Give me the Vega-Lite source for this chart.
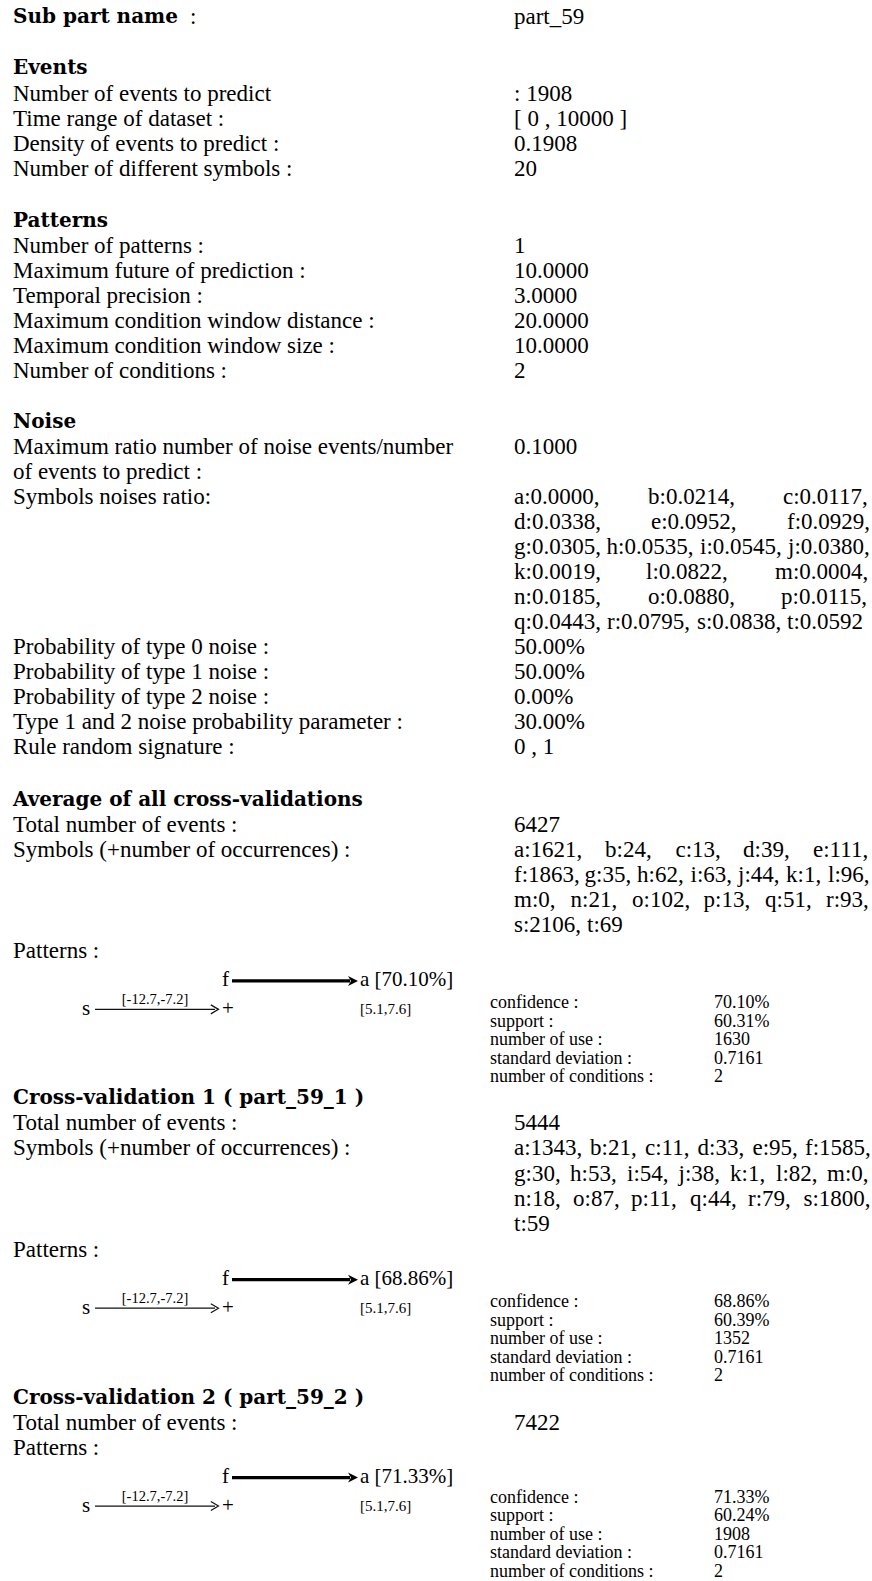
{
"$schema": "https://vega.github.io/schema/vega-lite/v6.json",
"width": 872, "height": 1581,
"autosize": {"type": "fit", "contains": "padding"},
"padding": 0,
"background": "white",
"config": {"view": {"stroke": null}, "text": {"font": "Liberation Serif", "color": "#000"}},
"datasets": {
"txt": [
{"k":"head","x":13,"y":17.5,"t":"Sub part name"},
{"k":"body","x":190,"y":17.5,"t":":"},
{"k":"body","x":514,"y":17.5,"t":"part_59"},
{"k":"head","x":13,"y":68,"t":"Events"},
{"k":"body","x":13,"y":94,"t":"Number of events to predict"},
{"k":"body","x":514,"y":94,"t":": 1908"},
{"k":"body","x":13,"y":119,"t":"Time range of dataset :"},
{"k":"body","x":514,"y":119,"t":"[ 0 , 10000 ]"},
{"k":"body","x":13,"y":144,"t":"Density of events to predict :"},
{"k":"body","x":514,"y":144,"t":"0.1908"},
{"k":"body","x":13,"y":169,"t":"Number of different symbols :"},
{"k":"body","x":514,"y":169,"t":"20"},
{"k":"head","x":13,"y":221,"t":"Patterns"},
{"k":"body","x":13,"y":246,"t":"Number of patterns :"},
{"k":"body","x":514,"y":246,"t":"1"},
{"k":"body","x":13,"y":271,"t":"Maximum future of prediction :"},
{"k":"body","x":514,"y":271,"t":"10.0000"},
{"k":"body","x":13,"y":296,"t":"Temporal precision :"},
{"k":"body","x":514,"y":296,"t":"3.0000"},
{"k":"body","x":13,"y":321,"t":"Maximum condition window distance :"},
{"k":"body","x":514,"y":321,"t":"20.0000"},
{"k":"body","x":13,"y":346,"t":"Maximum condition window size :"},
{"k":"body","x":514,"y":346,"t":"10.0000"},
{"k":"body","x":13,"y":371,"t":"Number of conditions :"},
{"k":"body","x":514,"y":371,"t":"2"},
{"k":"head","x":13,"y":422,"t":"Noise"},
{"k":"body","x":13,"y":447,"t":"Maximum ratio number of noise events/number"},
{"k":"body","x":514,"y":447,"t":"0.1000"},
{"k":"body","x":13,"y":472,"t":"of events to predict :"},
{"k":"body","x":13,"y":497,"t":"Symbols noises ratio:"},
{"k":"body","x":514,"y":497,"t":"a:0.0000,"},
{"k":"body","x":648,"y":497,"t":"b:0.0214,"},
{"k":"body","x":783,"y":497,"t":"c:0.0117,"},
{"k":"body","x":514,"y":522,"t":"d:0.0338,"},
{"k":"body","x":651,"y":522,"t":"e:0.0952,"},
{"k":"body","x":787,"y":522,"t":"f:0.0929,"},
{"k":"body","x":514,"y":547,"t":"g:0.0305,"},
{"k":"body","x":606.5,"y":547,"t":"h:0.0535,"},
{"k":"body","x":700,"y":547,"t":"i:0.0545,"},
{"k":"body","x":788,"y":547,"t":"j:0.0380,"},
{"k":"body","x":514,"y":572,"t":"k:0.0019,"},
{"k":"body","x":646,"y":572,"t":"l:0.0822,"},
{"k":"body","x":775,"y":572,"t":"m:0.0004,"},
{"k":"body","x":514,"y":597,"t":"n:0.0185,"},
{"k":"body","x":648,"y":597,"t":"o:0.0880,"},
{"k":"body","x":781,"y":597,"t":"p:0.0115,"},
{"k":"body","x":514,"y":622,"t":"q:0.0443,"},
{"k":"body","x":607,"y":622,"t":"r:0.0795,"},
{"k":"body","x":697,"y":622,"t":"s:0.0838,"},
{"k":"body","x":787,"y":622,"t":"t:0.0592"},
{"k":"body","x":13,"y":647,"t":"Probability of type 0 noise :"},
{"k":"body","x":514,"y":647,"t":"50.00%"},
{"k":"body","x":13,"y":672,"t":"Probability of type 1 noise :"},
{"k":"body","x":514,"y":672,"t":"50.00%"},
{"k":"body","x":13,"y":697,"t":"Probability of type 2 noise :"},
{"k":"body","x":514,"y":697,"t":"0.00%"},
{"k":"body","x":13,"y":722,"t":"Type 1 and 2 noise probability parameter :"},
{"k":"body","x":514,"y":722,"t":"30.00%"},
{"k":"body","x":13,"y":747,"t":"Rule random signature :"},
{"k":"body","x":514,"y":747,"t":"0 , 1"},
{"k":"head","x":13,"y":800.5,"t":"Average of all cross-validations"},
{"k":"body","x":13,"y":826,"t":"Total number of events :"},
{"k":"body","x":514,"y":826,"t":"6427"},
{"k":"body","x":13,"y":851,"t":"Symbols (+number of occurrences) :"},
{"k":"body","x":514,"y":851,"t":"a:1621,"},
{"k":"body","x":605,"y":851,"t":"b:24,"},
{"k":"body","x":675.5,"y":851,"t":"c:13,"},
{"k":"body","x":743,"y":851,"t":"d:39,"},
{"k":"body","x":813,"y":851,"t":"e:111,"},
{"k":"body","x":514,"y":876,"t":"f:1863,"},
{"k":"body","x":584.5,"y":876,"t":"g:35,"},
{"k":"body","x":637,"y":876,"t":"h:62,"},
{"k":"body","x":690.5,"y":876,"t":"i:63,"},
{"k":"body","x":738,"y":876,"t":"j:44,"},
{"k":"body","x":786,"y":876,"t":"k:1,"},
{"k":"body","x":828,"y":876,"t":"l:96,"},
{"k":"body","x":514,"y":901,"t":"m:0,"},
{"k":"body","x":570.5,"y":901,"t":"n:21,"},
{"k":"body","x":632,"y":901,"t":"o:102,"},
{"k":"body","x":703.5,"y":901,"t":"p:13,"},
{"k":"body","x":765,"y":901,"t":"q:51,"},
{"k":"body","x":826,"y":901,"t":"r:93,"},
{"k":"body","x":514,"y":926,"t":"s:2106,"},
{"k":"body","x":587,"y":926,"t":"t:69"},
{"k":"body","x":13,"y":952,"t":"Patterns :"},
{"k":"head","x":13,"y":1098.5,"t":"Cross-validation 1 ( part_59_1 )"},
{"k":"body","x":13,"y":1124,"t":"Total number of events :"},
{"k":"body","x":514,"y":1124,"t":"5444"},
{"k":"body","x":13,"y":1149,"t":"Symbols (+number of occurrences) :"},
{"k":"body","x":514,"y":1149,"t":"a:1343,"},
{"k":"body","x":590,"y":1149,"t":"b:21,"},
{"k":"body","x":645,"y":1149,"t":"c:11,"},
{"k":"body","x":697.5,"y":1149,"t":"d:33,"},
{"k":"body","x":752.5,"y":1149,"t":"e:95,"},
{"k":"body","x":805,"y":1149,"t":"f:1585,"},
{"k":"body","x":514,"y":1175,"t":"g:30,"},
{"k":"body","x":570,"y":1175,"t":"h:53,"},
{"k":"body","x":627,"y":1175,"t":"i:54,"},
{"k":"body","x":678.5,"y":1175,"t":"j:38,"},
{"k":"body","x":730,"y":1175,"t":"k:1,"},
{"k":"body","x":776,"y":1175,"t":"l:82,"},
{"k":"body","x":827,"y":1175,"t":"m:0,"},
{"k":"body","x":514,"y":1200,"t":"n:18,"},
{"k":"body","x":573,"y":1200,"t":"o:87,"},
{"k":"body","x":631,"y":1200,"t":"p:11,"},
{"k":"body","x":690,"y":1200,"t":"q:44,"},
{"k":"body","x":748,"y":1200,"t":"r:79,"},
{"k":"body","x":803.5,"y":1200,"t":"s:1800,"},
{"k":"body","x":514,"y":1225,"t":"t:59"},
{"k":"body","x":13,"y":1251,"t":"Patterns :"},
{"k":"head","x":13,"y":1399,"t":"Cross-validation 2 ( part_59_2 )"},
{"k":"body","x":13,"y":1424,"t":"Total number of events :"},
{"k":"body","x":514,"y":1424,"t":"7422"},
{"k":"body","x":13,"y":1449,"t":"Patterns :"},
{"k":"small","x":490,"y":1004,"t":"confidence :"},
{"k":"small","x":714,"y":1004,"t":"70.10%"},
{"k":"small","x":490,"y":1022.5,"t":"support :"},
{"k":"small","x":714,"y":1022.5,"t":"60.31%"},
{"k":"small","x":490,"y":1041,"t":"number of use :"},
{"k":"small","x":714,"y":1041,"t":"1630"},
{"k":"small","x":490,"y":1059.5,"t":"standard deviation :"},
{"k":"small","x":714,"y":1059.5,"t":"0.7161"},
{"k":"small","x":490,"y":1078,"t":"number of conditions :"},
{"k":"small","x":714,"y":1078,"t":"2"},
{"k":"small","x":490,"y":1303,"t":"confidence :"},
{"k":"small","x":714,"y":1303,"t":"68.86%"},
{"k":"small","x":490,"y":1321.5,"t":"support :"},
{"k":"small","x":714,"y":1321.5,"t":"60.39%"},
{"k":"small","x":490,"y":1340,"t":"number of use :"},
{"k":"small","x":714,"y":1340,"t":"1352"},
{"k":"small","x":490,"y":1358.5,"t":"standard deviation :"},
{"k":"small","x":714,"y":1358.5,"t":"0.7161"},
{"k":"small","x":490,"y":1377,"t":"number of conditions :"},
{"k":"small","x":714,"y":1377,"t":"2"},
{"k":"small","x":490,"y":1499,"t":"confidence :"},
{"k":"small","x":714,"y":1499,"t":"71.33%"},
{"k":"small","x":490,"y":1517,"t":"support :"},
{"k":"small","x":714,"y":1517,"t":"60.24%"},
{"k":"small","x":490,"y":1535.5,"t":"number of use :"},
{"k":"small","x":714,"y":1535.5,"t":"1908"},
{"k":"small","x":490,"y":1554,"t":"standard deviation :"},
{"k":"small","x":714,"y":1554,"t":"0.7161"},
{"k":"small","x":490,"y":1572.5,"t":"number of conditions :"},
{"k":"small","x":714,"y":1572.5,"t":"2"},
{"k":"dg","x":222,"y":981,"t":"f"},
{"k":"dg","x":360,"y":981,"t":"a [70.10%]"},
{"k":"dg","x":82,"y":1010,"t":"s"},
{"k":"dg","x":222,"y":1010,"t":"+"},
{"k":"lc","x":155,"y":1001,"t":"[-12.7,-7.2]"},
{"k":"ll","x":360,"y":1010,"t":"[5.1,7.6]"},
{"k":"dg","x":222,"y":1280,"t":"f"},
{"k":"dg","x":360,"y":1280,"t":"a [68.86%]"},
{"k":"dg","x":82,"y":1309,"t":"s"},
{"k":"dg","x":222,"y":1309,"t":"+"},
{"k":"lc","x":155,"y":1300,"t":"[-12.7,-7.2]"},
{"k":"ll","x":360,"y":1309,"t":"[5.1,7.6]"},
{"k":"dg","x":222,"y":1478,"t":"f"},
{"k":"dg","x":360,"y":1478,"t":"a [71.33%]"},
{"k":"dg","x":82,"y":1507,"t":"s"},
{"k":"dg","x":222,"y":1507,"t":"+"},
{"k":"lc","x":155,"y":1498,"t":"[-12.7,-7.2]"},
{"k":"ll","x":360,"y":1507,"t":"[5.1,7.6]"}
],
"rules": [
{"k":"thick","x":232,"x2":350,"y":981.5},
{"k":"thin","x":95,"x2":215,"y":1010},
{"k":"thick","x":232,"x2":350,"y":1280.5},
{"k":"thin","x":95,"x2":215,"y":1309},
{"k":"thick","x":232,"x2":350,"y":1478.5},
{"k":"thin","x":95,"x2":215,"y":1507}
],
"heads": [
{"k":"fill","x":353,"y":981.5},
{"k":"open","x":214,"y":1010},
{"k":"fill","x":353,"y":1280.5},
{"k":"open","x":214,"y":1309},
{"k":"fill","x":353,"y":1478.5},
{"k":"open","x":214,"y":1507}
]
},
"encoding": {
"x": {"field": "x", "type": "quantitative", "scale": {"domain": [0, 872], "nice": false, "zero": false}, "axis": null},
"y": {"field": "y", "type": "quantitative", "scale": {"domain": [0, 1581], "nice": false, "zero": false, "reverse": true}, "axis": null}
},
"layer": [
{"data": {"name": "rules"}, "transform": [{"filter": "datum.k === 'thick'"}], "mark": {"type": "rule", "strokeWidth": 3.2, "color": "#000"}, "encoding": {"x2": {"field": "x2"}}},
{"data": {"name": "rules"}, "transform": [{"filter": "datum.k === 'thin'"}], "mark": {"type": "rule", "strokeWidth": 1.2, "color": "#111"}, "encoding": {"x2": {"field": "x2"}}},
{"data": {"name": "heads"}, "transform": [{"filter": "datum.k === 'fill'"}], "mark": {"type": "point", "shape": "M-1,-1L1,0L-1,1L-0.4,0Z", "filled": true, "size": 100, "color": "#000", "opacity": 1}},
{"data": {"name": "heads"}, "transform": [{"filter": "datum.k === 'open'"}], "mark": {"type": "point", "shape": "M-0.7,-1L1,0L-0.7,1", "filled": false, "size": 81, "color": "#111", "strokeWidth": 1.2, "opacity": 1}},
{"data": {"name": "txt"}, "transform": [{"filter": "datum.k === 'head'"}], "mark": {"type": "text", "align": "left", "baseline": "middle", "fontSize": 20, "fontWeight": "bold", "font": "DejaVu Serif"}, "encoding": {"text": {"field": "t"}}},
{"data": {"name": "txt"}, "transform": [{"filter": "datum.k === 'body'"}], "mark": {"type": "text", "align": "left", "baseline": "middle", "fontSize": 23}, "encoding": {"text": {"field": "t"}}},
{"data": {"name": "txt"}, "transform": [{"filter": "datum.k === 'small'"}], "mark": {"type": "text", "align": "left", "baseline": "middle", "fontSize": 18}, "encoding": {"text": {"field": "t"}}},
{"data": {"name": "txt"}, "transform": [{"filter": "datum.k === 'dg'"}], "mark": {"type": "text", "align": "left", "baseline": "middle", "fontSize": 21}, "encoding": {"text": {"field": "t"}}},
{"data": {"name": "txt"}, "transform": [{"filter": "datum.k === 'lc'"}], "mark": {"type": "text", "align": "center", "baseline": "middle", "fontSize": 14.5}, "encoding": {"text": {"field": "t"}}},
{"data": {"name": "txt"}, "transform": [{"filter": "datum.k === 'll'"}], "mark": {"type": "text", "align": "left", "baseline": "middle", "fontSize": 15}, "encoding": {"text": {"field": "t"}}}
]
}
